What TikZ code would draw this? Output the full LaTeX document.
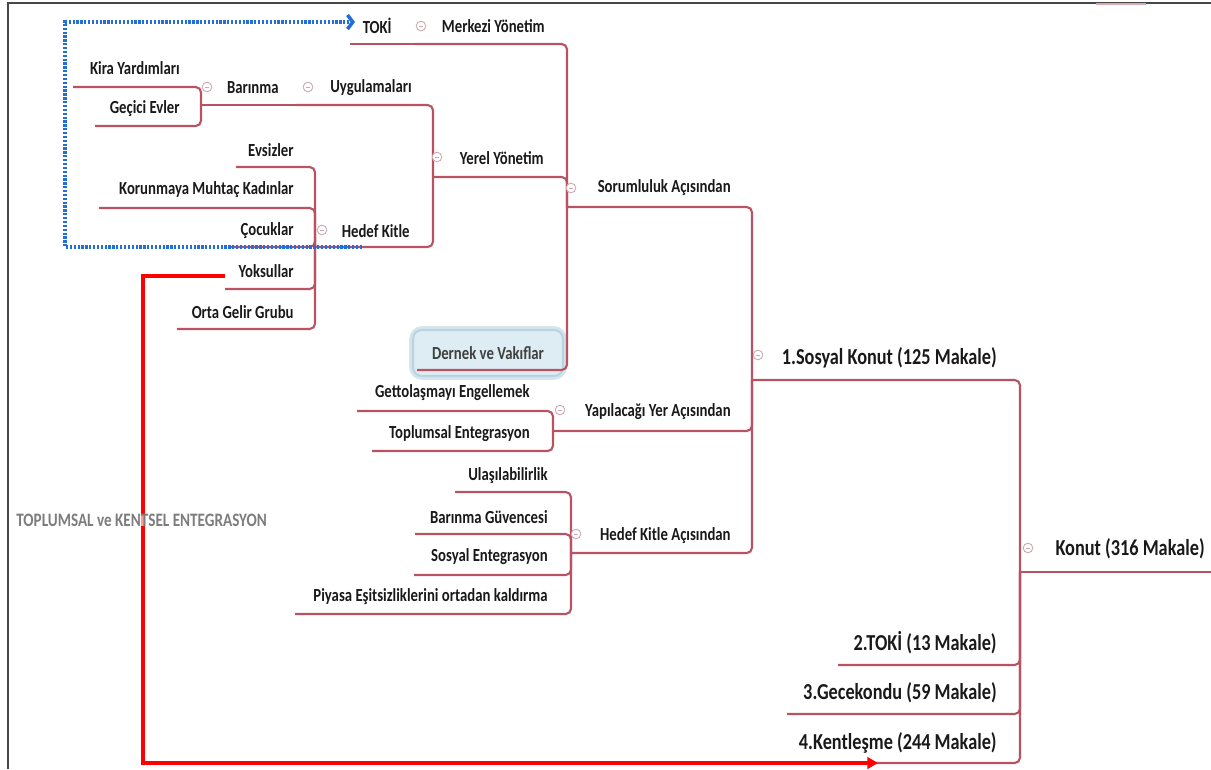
\documentclass[tikz,border=0pt]{standalone}
\usepackage{fontspec}
\newfontfamily\mapfont[FakeStretch=0.8]{Carlito}
\usetikzlibrary{arrows.meta}
\definecolor{branchred}{RGB}{185,82,98}
\definecolor{togglegray}{RGB}{205,168,176}
\definecolor{dotblue}{RGB}{35,110,215}
\definecolor{boxfill}{RGB}{222,237,243}
\definecolor{boxline}{RGB}{185,212,224}
\definecolor{framegray}{RGB}{70,70,70}
\definecolor{labelgray}{RGB}{125,125,125}

\begin{document}
\begin{tikzpicture} [x=0.02cm, y=-0.02cm,
                    branch/.style={draw=branchred, line width=1.2pt, rounded corners=3pt},
                    topic/.style={anchor=east, inner sep=0pt, text=black!90,
                                  font=\mapfont\bfseries\fontsize{10.5}{12}\selectfont},
                    maintopic/.style={topic, font=\mapfont\bfseries\fontsize{13}{15}\selectfont},
                    toggle/.style={circle, draw=togglegray, fill=white, line width=0.5pt,
                                   minimum size=5.5pt, inner sep=0pt,
                                   path picture={\draw[togglegray, line width=0.5pt]
                                     ([xshift=-1.4pt]path picture bounding box.center) --
                                     ([xshift=1.4pt]path picture bounding box.center);}},
                    bluedot/.style={draw=dotblue, line width=2pt, dash pattern=on 1.3pt off 0.9pt,
                                    -{Straight Barb[length=3pt,width=8pt]}},
                    redarrow/.style={draw=red, line width=2.1pt, -{Triangle[length=6pt,width=6.5pt]}}]

\useasboundingbox (0,0) rectangle (1211,769);

% frame
\draw[framegray, line width=1.2pt] (8,769) -- (8,3) -- (1211,3);
\draw[branchred!50, line width=1.5pt] (1096,4) -- (1146,4);

% box
\node[fill=boxfill, draw=boxline!60, line width=3pt, rounded corners=6pt,
      minimum width=3.05cm, minimum height=0.97cm] (dernekglow) at (488,353) {};
\node[fill=boxfill, draw=boxline, line width=1.2pt, rounded corners=5pt,
      minimum width=3cm, minimum height=0.92cm] (dernekbox) at (488,353) {};

% topics
\node[maintopic] (konut) at (1205,549) {Konut (316 Makale)};
\node[maintopic] (sosyal) at (997,358) {1.Sosyal Konut (125 Makale)};
\node[maintopic] (toki2) at (997,643) {2.TOKİ (13 Makale)};
\node[maintopic] (gecek) at (997,693) {3.Gecekondu (59 Makale)};
\node[maintopic] (kentl) at (997,743) {4.Kentleşme (244 Makale)};

\node[topic] (sorum) at (731,188) {Sorumluluk Açısından};
\node[topic] (yapil) at (731,412) {Yapılacağı Yer Açısından};
\node[topic] (hedefA) at (731,536) {Hedef Kitle Açısından};

\node[topic] (merkezi) at (545,26) {Merkezi Yönetim};
\node[topic] (toki) at (392,26) {TOKİ};
\node[topic] (yerel) at (544,158) {Yerel Yönetim};
\node[topic, anchor=center, text=black!75] (dernek) at (dernekbox) {Dernek ve Vakıflar};

\node[topic] (uygul) at (412,88) {Uygulamaları};
\node[topic] (barinma) at (279,88) {Barınma};
\node[topic] (kira) at (180,68) {Kira Yardımları};
\node[topic] (gecici) at (180,109) {Geçici Evler};

\node[topic] (hedef) at (410,231) {Hedef Kitle};
\node[topic] (evsiz) at (294,150) {Evsizler};
\node[topic] (korun) at (294,190) {Korunmaya Muhtaç Kadınlar};
\node[topic] (cocuk) at (294,231) {Çocuklar};
\node[topic] (yoksul) at (294,271) {Yoksullar};
\node[topic] (orta) at (294,312) {Orta Gelir Grubu};

\node[topic] (getto) at (530,393) {Gettolaşmayı Engellemek};
\node[topic] (toplum) at (530,434) {Toplumsal Entegrasyon};

\node[topic] (ulas) at (548,476) {Ulaşılabilirlik};
\node[topic] (barguv) at (548,517) {Barınma Güvencesi};
\node[topic] (sosent) at (548,557) {Sosyal Entegrasyon};
\node[topic] (piyasa) at (548,597) {Piyasa Eşitsizliklerini ortadan kaldırma};

% underline ends
\coordinate (konut-u) at (1020,572);
\coordinate (konut-end) at (1211,572);
\coordinate (sosyal-u) at (752,380);
\coordinate (toki2-u) at (838,665);
\coordinate (gecek-u) at (787,714);
\coordinate (kentl-u) at (790,763);
\coordinate (sorum-u) at (567,207);
\coordinate (yapil-u) at (553,431);
\coordinate (hedefA-u) at (571,553);
\coordinate (toki-u) at (350,44);
\coordinate (merkezi-u) at (415,44);
\coordinate (yerel-u) at (433,177);
\coordinate (dernek-u) at (417,370);
\coordinate (uygul-u) at (296,105);
\coordinate (barinma-u) at (201,105);
\coordinate (kira-u) at (73,87);
\coordinate (gecici-u) at (95,126);
\coordinate (hedef-u) at (315,247);
\coordinate (evsiz-u) at (236,167);
\coordinate (korun-u) at (99,208);
\coordinate (cocuk-u) at (228,247);
\coordinate (yoksul-u) at (225,289);
\coordinate (orta-u) at (177,329);
\coordinate (getto-u) at (357,411);
\coordinate (toplum-u) at (372,451);
\coordinate (ulas-u) at (455,492);
\coordinate (barguv-u) at (415,534);
\coordinate (sosent-u) at (414,575);
\coordinate (piyasa-u) at (295,614);

% branches
\draw[branch] (konut-u) -- (konut-end);
\draw[branch] (sosyal-u) -| (konut-u);
\draw[branch] (toki2-u) -| (konut-u);
\draw[branch] (gecek-u) -| (konut-u);
\draw[branch] (kentl-u) -| (konut-u);

\draw[branch] (sorum-u) -| (sosyal-u);
\draw[branch] (yapil-u) -| (sosyal-u);
\draw[branch] (hedefA-u) -| (sosyal-u);

\draw[branch] (toki-u) -- (merkezi-u);
\draw[branch] (merkezi-u) -| (sorum-u);
\draw[branch] (yerel-u) -| (sorum-u);
\draw[branch] (dernek-u) -| (sorum-u);

\draw[branch] (uygul-u) -| (yerel-u);
\draw[branch] (hedef-u) -| (yerel-u);
\draw[branch] (barinma-u) -- (uygul-u);
\draw[branch] (kira-u) -| (barinma-u);
\draw[branch] (gecici-u) -| (barinma-u);

\draw[branch] (evsiz-u) -| (hedef-u);
\draw[branch] (korun-u) -| (hedef-u);
\draw[branch] (cocuk-u) -| (hedef-u);
\draw[branch] (yoksul-u) -| (hedef-u);
\draw[branch] (orta-u) -| (hedef-u);

\draw[branch] (getto-u) -| (yapil-u);
\draw[branch] (toplum-u) -| (yapil-u);

\draw[branch] (ulas-u) -| (hedefA-u);
\draw[branch] (barguv-u) -| (hedefA-u);
\draw[branch] (sosent-u) -| (hedefA-u);
\draw[branch] (piyasa-u) -| (hedefA-u);

% collapse toggles
\node[toggle] (konut-t) at (1028,548) {};
\node[toggle] (sosyal-t) at (758,355) {};
\node[toggle] (sorum-t) at (571,188) {};
\node[toggle] (yapil-t) at (560,410) {};
\node[toggle] (hedefA-t) at (576,534) {};
\node[toggle] (merkezi-t) at (421,26) {};
\node[toggle] (yerel-t) at (437,157) {};
\node[toggle] (uygul-t) at (308,87) {};
\node[toggle] (hedef-t) at (322,230) {};
\node[toggle] (barinma-t) at (207,87) {};

% blue dotted link
\coordinate (blue-start) at (362,247);
\coordinate (blue-turn) at (65,22);
\coordinate (blue-tip) at (355,22);
\draw[bluedot] (blue-start) -| (blue-turn) -- (blue-tip);

% red link
\coordinate (red-start) at (225,276);
\coordinate (red-turn) at (143,763);
\coordinate (red-tip) at (878,763);
\draw[redarrow] (red-start) -| (red-turn) -- (red-tip);

\node[topic, anchor=west, text=labelgray, fill=white, fill opacity=0.6, text opacity=1,
      font=\mapfont\bfseries\fontsize{10.8}{12}\selectfont]
     (entegr) at (16,520) {TOPLUMSAL ve KENTSEL ENTEGRASYON};
\end{tikzpicture}
\end{document}
